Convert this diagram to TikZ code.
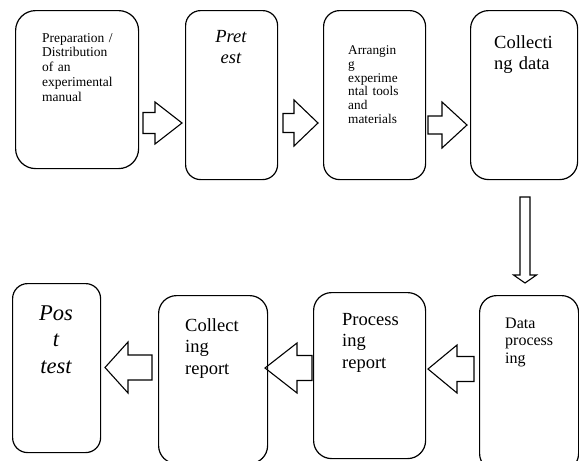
\documentclass[tikz,border=0pt]{standalone}
\usepackage{fontspec}
\setmainfont{Liberation Serif}
\newcommand\harrow[6]{% tail x, head base x, tip x, centre y, shaft half, head half
  \draw[blockarrow] (#1,#4-#5) -- (#2,#4-#5) -- (#2,#4-#6) -- (#3,#4) -- (#2,#4+#6) -- (#2,#4+#5) -- (#1,#4+#5) -- cycle;}
\begin{document}
\begin{tikzpicture}[x=1pt,y=-1pt,
  box/.style={draw,line width=1.2pt,inner sep=0pt,anchor=north west},
  blockarrow/.style={draw,line width=1.1pt,line join=miter},
  lt/.style={inner sep=0pt,anchor=base west,align=left,text width=90pt},
  ct/.style={inner sep=0pt,anchor=base,align=center,text width=80pt}]
\clip (0,0) rectangle (579,461);
\fill[white] (0,0) rectangle (579,461);
% boxes
\node[box,rounded corners=20pt,minimum width=123pt,minimum height=158pt] (b1) at (15,10) {};
\node[box,rounded corners=15pt,minimum width=92pt,minimum height=169pt] (b2) at (185,10) {};
\node[box,rounded corners=16pt,minimum width=102pt,minimum height=169pt] (b3) at (323,10) {};
\node[box,rounded corners=18pt,minimum width=107pt,minimum height=169pt] (b4) at (470,10) {};
\node[box,rounded corners=17pt,minimum width=99pt,minimum height=175pt] (b5) at (479,295) {};
\node[box,rounded corners=18pt,minimum width=112pt,minimum height=166pt] (b6) at (313,292) {};
\node[box,rounded corners=18pt,minimum width=109pt,minimum height=168pt] (b7) at (158,295) {};
\node[box,rounded corners=15pt,minimum width=88pt,minimum height=169pt] (b8) at (12,283) {};
% texts
\node[lt,font=\fontsize{13.5}{14.9}\selectfont] (t1) at (42,42) {Preparation /\\Distribution\\of an\\experimental\\manual};
\node[ct,font=\fontsize{18.5}{21}\selectfont\itshape] (t2) at (231,42) {Pret\\est};
\node[lt,font=\fontsize{13.3}{13.8}\selectfont] (t3) at (348,54.5) {Arrangin\\g\\experime\\ntal tools\\and\\materials};
\node[lt,font=\fontsize{18.5}{21.5}\selectfont] (t4) at (494,48) {Collecti\\ng data};
\node[lt,font=\fontsize{16}{17.5}\selectfont] (t5) at (505,328) {Data\\process\\ing};
\node[lt,font=\fontsize{18.5}{21.5}\selectfont] (t6) at (342,325) {Process\\ing\\report};
\node[lt,font=\fontsize{18.5}{21.5}\selectfont] (t7) at (185,331) {Collect\\ing\\report};
\node[ct,font=\fontsize{22.5}{26.5}\selectfont\itshape] (t8) at (56,320) {Pos\\t\\test};
% block arrows
\harrow{143}{155}{182}{123}{10.5}{21}
\harrow{283}{294}{318}{123}{9.5}{23}
\harrow{428}{442}{467}{125}{9}{23}
\harrow{474}{457}{428}{369}{12.5}{24}
\harrow{312}{297}{265}{368}{12.5}{25}
\harrow{152}{128}{105}{367.5}{12.5}{25.5}
\draw[blockarrow] (520,197) -- (530,197) -- (530,275) -- (536.5,275) -- (525,283) -- (513.5,275) -- (520,275) -- cycle;
\end{tikzpicture}
\end{document}
